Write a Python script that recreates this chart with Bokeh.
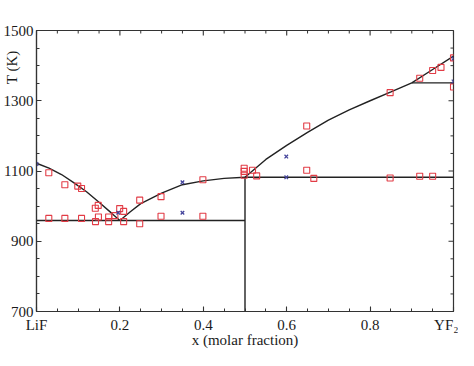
import math
from bokeh.plotting import figure
from bokeh.models import Range1d, FixedTicker, LinearAxis
from bokeh.embed import file_html
from bokeh.resources import INLINE

# ---- data ----
# liquidus branches
left_liq_x = [0.0, 0.03, 0.06, 0.09, 0.12, 0.15, 0.18, 0.20]
left_liq_T = [1122, 1108, 1090, 1066, 1041, 1011, 980, 959]
mid_liq_x = [0.20, 0.225, 0.25, 0.30, 0.35, 0.40, 0.45, 0.50]
mid_liq_T = [959, 984, 1007, 1037, 1061, 1072, 1079, 1082]
up_liq_x = [0.50, 0.55, 0.60, 0.65, 0.70, 0.75, 0.80, 0.85, 0.90, 0.95, 1.00]
up_liq_T = [1082, 1133, 1173, 1210, 1245, 1274, 1300, 1325, 1351, 1389, 1427]

# invariant lines (eutectic, peritectic, compound, YF2 transition)
seg_x0 = [0.0, 0.5, 0.5, 0.9]
seg_T0 = [959, 1082, 700, 1351]
seg_x1 = [0.5, 1.0, 0.5, 1.0]
seg_T1 = [959, 1082, 1082, 1351]

# experimental points (squares)
sq_x = [0.0295, 0.068, 0.099, 0.108, 0.141, 0.148, 0.1995, 0.209, 0.2475,
        0.0295, 0.068, 0.108, 0.1415, 0.1485, 0.173, 0.173, 0.188, 0.209, 0.2475,
        0.2986, 0.2986, 0.399, 0.399, 0.498, 0.498, 0.498, 0.518, 0.528,
        0.648, 0.648, 0.665, 0.848, 0.919, 0.950, 0.970, 1.0, 1.0,
        0.848, 0.919, 0.950]
sq_T = [1095, 1061, 1057, 1050, 994, 1002, 993, 985, 1017,
        965, 965, 965, 956, 969, 969, 956, 973, 956, 950,
        1027, 971, 1075, 971, 1108, 1099, 1088, 1102, 1086,
        1228, 1102, 1079, 1323, 1364, 1386, 1395, 1422, 1339,
        1080, 1085, 1085]

# experimental points (crosses)
cr_x = [0.0, 0.196, 0.350, 0.350, 0.599, 0.599, 1.0, 1.0]
cr_T = [1120, 981, 1068, 981, 1141, 1082, 1420, 1355]

x_lim = [0.0, 1.0]
y_lim = [700, 1500]
x_ticks = [0.0, 0.2, 0.4, 0.6, 0.8, 1.0]
x_tick_labels = ["LiF", "0.2", "0.4", "0.6", "0.8", "YF\u2082"]
x_minor = [0.05, 0.1, 0.15, 0.25, 0.3, 0.35, 0.45, 0.5, 0.55, 0.65, 0.7, 0.75, 0.85, 0.9, 0.95]
y_ticks = [700, 900, 1100, 1300, 1500]
y_tick_labels = ["700", "900", "1100", "1300", "1500"]
y_minor = [750, 800, 850, 950, 1000, 1050, 1150, 1200, 1250, 1350, 1400, 1450]

x_title = "x (molar fraction)"
y_title = "T (K)"
y_title_at = [1395]   # level on the T axis where the reference places its title

FONT = "Liberation Serif"
AX = "#333333"
LINE = "#222222"
TXT = "#1a1a1a"
RED = "#e23c46"
BLUE = "#45459c"

p = figure(width=458, height=350, output_backend="svg", toolbar_location=None,
           x_range=Range1d(*x_lim), y_range=Range1d(*y_lim),
           min_border_left=34, min_border_right=5, min_border_top=30, min_border_bottom=32,
           x_axis_location=None, y_axis_location=None)
p.xgrid.visible = False
p.ygrid.visible = False
p.outline_line_color = AX
p.outline_line_width = 1.2
p.background_fill_color = "white"


def style(ax):
    ax.axis_line_color = AX
    ax.axis_line_width = 1.2
    ax.major_tick_line_color = AX
    ax.minor_tick_line_color = AX
    ax.major_tick_line_width = 1.1
    ax.minor_tick_line_width = 1.0
    ax.major_tick_in = 5
    ax.major_tick_out = 0
    ax.minor_tick_in = 3
    ax.minor_tick_out = 0
    ax.major_label_text_font = FONT
    ax.major_label_text_color = TXT
    ax.major_label_text_font_size = "15px"
    ax.major_label_standoff = 3
    ax.axis_label_text_font = FONT
    ax.axis_label_text_font_size = "15px"
    ax.axis_label_text_font_style = "normal"
    ax.axis_label_text_color = TXT


bx = LinearAxis(ticker=FixedTicker(ticks=x_ticks, minor_ticks=x_minor),
                major_label_overrides=dict(zip(x_ticks, x_tick_labels)),
                axis_label=x_title)
ly = LinearAxis(ticker=FixedTicker(ticks=y_ticks, minor_ticks=y_minor),
                major_label_overrides=dict(zip(y_ticks, y_tick_labels)))
style(bx)
style(ly)
bx.major_label_standoff = 5
bx.axis_label_standoff = -4
p.add_layout(bx, "below")
p.add_layout(ly, "left")

# a line-less, tick-less helper axis whose single upright label is the y title,
# placed near the top of the axis like in the reference
ty = LinearAxis(ticker=FixedTicker(ticks=y_title_at, minor_ticks=[]),
                major_label_overrides={y_title_at[0]: y_title})
style(ty)
ty.axis_line_color = None
ty.major_tick_line_color = None
ty.minor_tick_line_color = None
ty.major_tick_in = 0
ty.minor_tick_in = 0
ty.major_label_orientation = "vertical"
ty.major_label_standoff = -20
p.add_layout(ty, "left")

# mirrored ticks on the top and right frame edges
n_x = len(x_ticks)
n_xm = len(x_minor)
n_y = len(y_ticks)
n_ym = len(y_minor)
p.ray(x=x_ticks, y=[y_lim[1]] * n_x, length=5, length_units="screen", angle=-math.pi / 2,
      line_color=AX, line_width=1.1)
p.ray(x=x_minor, y=[y_lim[1]] * n_xm, length=3, length_units="screen", angle=-math.pi / 2,
      line_color=AX, line_width=1.0)
p.ray(x=[x_lim[1]] * n_y, y=y_ticks, length=5, length_units="screen", angle=math.pi,
      line_color=AX, line_width=1.1)
p.ray(x=[x_lim[1]] * n_ym, y=y_minor, length=3, length_units="screen", angle=math.pi,
      line_color=AX, line_width=1.0)

# lines
for xs, ts in [(left_liq_x, left_liq_T), (mid_liq_x, mid_liq_T), (up_liq_x, up_liq_T)]:
    p.line(xs, ts, line_color=LINE, line_width=1.4)
p.segment(x0=seg_x0, y0=seg_T0, x1=seg_x1, y1=seg_T1, line_color=LINE, line_width=1.4)

# points
p.scatter(sq_x, sq_T, marker="square", size=6, fill_color=None, line_color=RED, line_width=1.1)
p.scatter(cr_x, cr_T, marker="x", size=5, line_color=BLUE, line_width=1.3)

open("out.html", "w").write(file_html(p, INLINE))
